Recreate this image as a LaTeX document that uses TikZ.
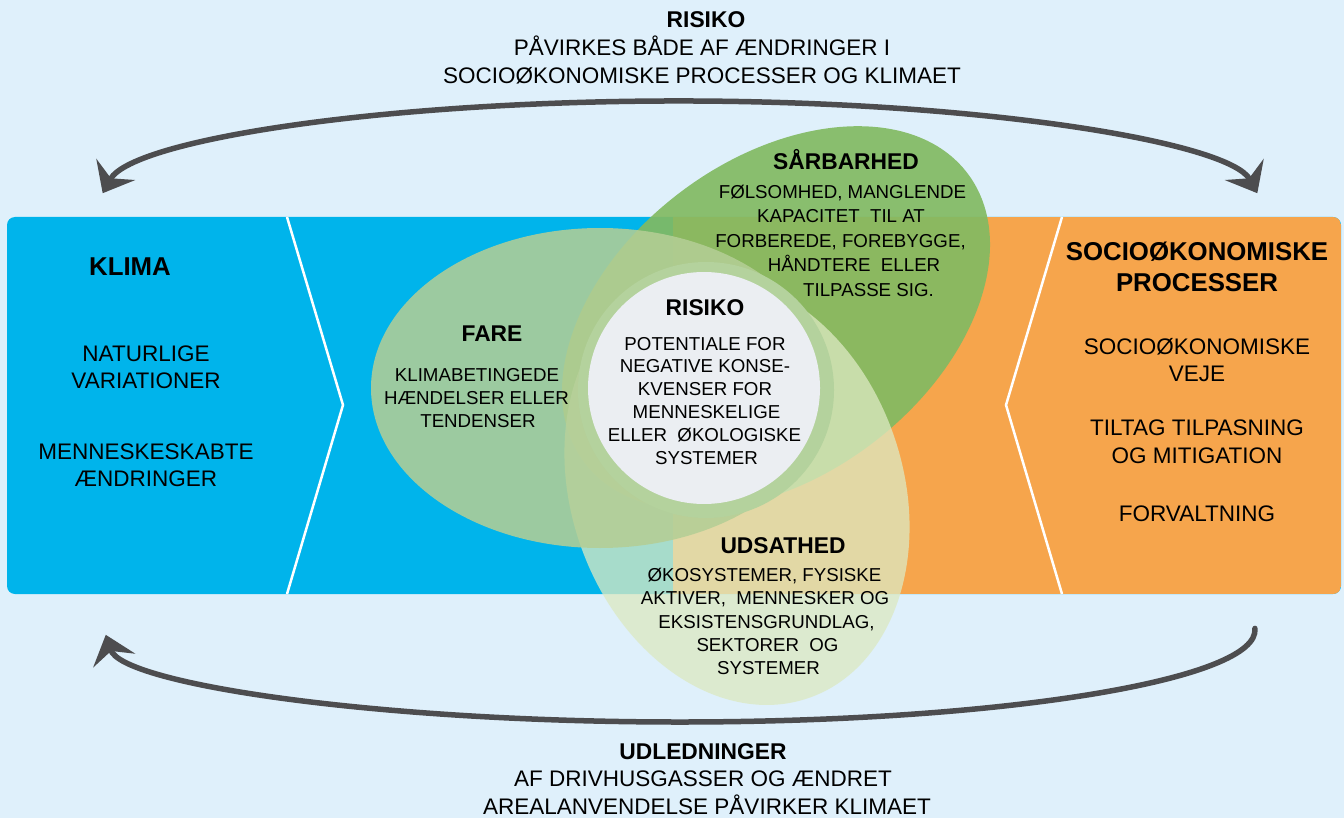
\documentclass[tikz,border=0pt]{standalone}
\usepackage{fontspec}
\setmainfont{Liberation Sans}
\usetikzlibrary{arrows.meta}
\definecolor{bg}{HTML}{DFF0FB}
\definecolor{bandblue}{HTML}{00B4EB}
\definecolor{bandorange}{HTML}{F6A54C}
\definecolor{sarb}{HTML}{82BA62}
\definecolor{udsat}{HTML}{DCE9C2}
\definecolor{farec}{HTML}{B4CE95}
\definecolor{ringc}{HTML}{B4D29D}
\definecolor{corec}{HTML}{EBEEF2}
\definecolor{arrowc}{HTML}{4D4D4F}
\begin{document}
\begin{tikzpicture}[x=1pt,y=-1pt,
  txt/.style={anchor=base, inner sep=0pt, text=black},
  big/.style={txt, font=\fontsize{22.5}{27}\selectfont},
  bighead/.style={txt, font=\fontsize{25.8}{30}\selectfont\bfseries},
  head/.style={txt, font=\fontsize{22.8}{27}\selectfont\bfseries},
  small/.style={txt, font=\fontsize{18.7}{23}\selectfont},
  cyc/.style={draw=arrowc, line width=5.5pt, line cap=round},
  chev/.style={draw=white, line width=2.5pt}
]
\fill[bg] (0,0) rectangle (1344,818);
\useasboundingbox (0,0) rectangle (1344,818);

% band
\fill[bandblue, rounded corners=8pt] (7,217) rectangle (1341,594);
\begin{scope}
  \clip[rounded corners=8pt] (7,217) rectangle (1341,594);
  \fill[bandorange] (673,217) rectangle (1341,594);
\end{scope}
\draw[chev] (287,217) -- (343,405) -- (287,594);
\draw[chev] (1062,217) -- (1006,405) -- (1062,594);

% ellipses
\fill[sarb, opacity=0.92, rotate around={37:(776,318)}] (776,318) ellipse [x radius=240, y radius=158];
\fill[udsat, opacity=0.76, rotate around={-71:(737,490)}] (737,490) ellipse [x radius=220, y radius=166];
\fill[farec, opacity=0.87] (600,388) ellipse [x radius=229, y radius=160];
\fill[ringc] (706,390) circle [radius=128];
\fill[corec] (704,388) circle [radius=116];

% cycle arrows
\coordinate (topL) at (102.7,193.2);
\coordinate (botR) at (1254.9,628.4);
\draw[cyc, {Stealth[length=27pt,width=44pt,inset=10pt]}-{Stealth[length=27pt,width=44pt,inset=10pt]}]
  (topL) arc[start angle=185.5, end angle=354.5, x radius=580, y radius=102];
\draw[cyc, -{Stealth[length=27pt,width=44pt,inset=10pt]}]
  (botR) arc[start angle=-1, end angle=177, x radius=575, y radius=92];

% top text
\node[head] (t1) at (706,28) {RISIKO};
\node[big] (t2) at (702,56) {PÅVIRKES BÅDE AF ÆNDRINGER I};
\node[big] (t3) at (702,84) {SOCIOØKONOMISKE PROCESSER OG KLIMAET};

% bottom text
\node[head] (b1) at (703,759) {UDLEDNINGER};
\node[big] (b2) at (703,786) {AF DRIVHUSGASSER OG ÆNDRET};
\node[big] (b3) at (707,814) {AREALANVENDELSE PÅVIRKER KLIMAET};

% left band
\node[bighead] (klima) at (130,276) {KLIMA};
\node[big] (nat1) at (146,361) {NATURLIGE};
\node[big] (nat2) at (146,388) {VARIATIONER};
\node[big] (men1) at (146,459) {MENNESKESKABTE};
\node[big] (men2) at (146,486) {ÆNDRINGER};

% right band
\node[bighead] (soc1) at (1197,261) {SOCIOØKONOMISKE};
\node[bighead] (soc2) at (1197,291.5) {PROCESSER};
\node[big] (sv1) at (1197,354) {SOCIOØKONOMISKE};
\node[big] (sv2) at (1197,381) {VEJE};
\node[big] (tt1) at (1197,435.5) {TILTAG TILPASNING};
\node[big] (tt2) at (1197,463) {OG MITIGATION};
\node[big] (forv) at (1197,521.5) {FORVALTNING};

% fare
\node[head] (fare) at (492,341.5) {FARE};
\node[small] (f1) at (477,381.6) {KLIMABETINGEDE};
\node[small] (f2) at (476.5,404.3) {HÆNDELSER ELLER};
\node[small] (f3) at (478,427) {TENDENSER};

% saarbarhed
\node[head] (sarbh) at (846,169.5) {SÅRBARHED};
\node[small] (s1) at (842.5,198.6) {FØLSOMHED, MANGLENDE};
\node[small] (s2) at (841,223) {KAPACITET\ \ TIL AT};
\node[small] (s3) at (840.5,247.5) {FORBEREDE, FOREBYGGE,};
\node[small] (s4) at (854,272) {HÅNDTERE\ \ ELLER};
\node[small] (s5) at (868.5,296.5) {TILPASSE SIG.};

% risiko
\node[head] (ris) at (705,316) {RISIKO};
\node[small] (r1) at (705,350) {POTENTIALE FOR};
\node[small] (r2) at (705,372.6) {NEGATIVE KONSE-};
\node[small] (r3) at (705,395.2) {KVENSER FOR};
\node[small] (r4) at (706.5,418) {MENNESKELIGE};
\node[small] (r5) at (704.5,441) {ELLER\ \ ØKOLOGISKE};
\node[small] (r6) at (706.5,464) {SYSTEMER};

% udsathed
\node[head] (uds) at (783,553) {UDSATHED};
\node[small] (u1) at (764.5,581.6) {ØKOSYSTEMER, FYSISKE};
\node[small] (u2) at (765,604.9) {AKTIVER,\ \ MENNESKER OG};
\node[small] (u3) at (766.5,628.2) {EKSISTENSGRUNDLAG,};
\node[small] (u4) at (767.5,651.5) {SEKTORER\ \ OG};
\node[small] (u5) at (768.5,674.8) {SYSTEMER};
\end{tikzpicture}
\end{document}
